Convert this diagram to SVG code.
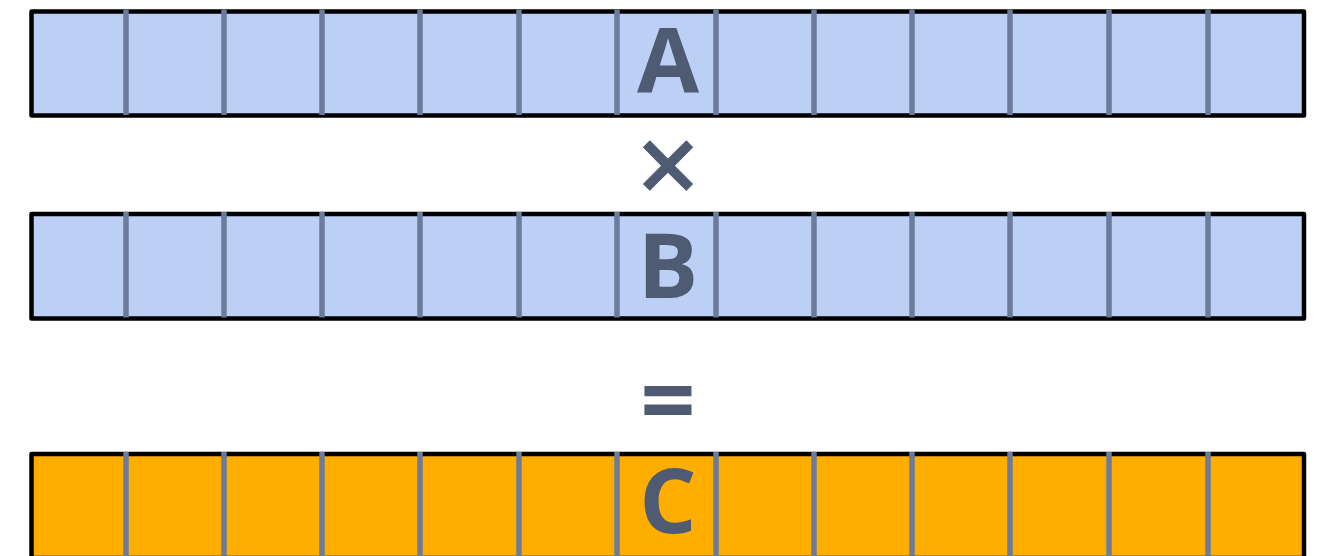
<svg xmlns="http://www.w3.org/2000/svg" width="1329" height="556" viewBox="0 0 1329 556">
<defs>
<style>
.bar{stroke:#000;stroke-width:4.5;stroke-linejoin:round}
.blue{fill:#bccff5}
.orange{fill:#ffae00}
.div{stroke:#6b7b99;stroke-width:5.5}
.lbl{font-family:"Open Sans","Liberation Sans",sans-serif;font-weight:bold;font-size:90px;fill:#4e5b73;text-anchor:middle}
</style>
<g id="dividers">
<line class="div" x1="126" y1="0" x2="126" y2="105.5"/>
<line class="div" x1="224" y1="0" x2="224" y2="105.5"/>
<line class="div" x1="322" y1="0" x2="322" y2="105.5"/>
<line class="div" x1="420" y1="0" x2="420" y2="105.5"/>
<line class="div" x1="519" y1="0" x2="519" y2="105.5"/>
<line class="div" x1="617" y1="0" x2="617" y2="105.5"/>
<line class="div" x1="716" y1="0" x2="716" y2="105.5"/>
<line class="div" x1="814" y1="0" x2="814" y2="105.5"/>
<line class="div" x1="912" y1="0" x2="912" y2="105.5"/>
<line class="div" x1="1010" y1="0" x2="1010" y2="105.5"/>
<line class="div" x1="1109" y1="0" x2="1109" y2="105.5"/>
<line class="div" x1="1208" y1="0" x2="1208" y2="105.5"/>
</g>
</defs>
<rect width="1329" height="556" fill="#fff"/>
<g id="A">
<rect class="bar blue" x="31.5" y="11.5" width="1272.5" height="104"/>
<use href="#dividers" y="9.5"/>
<text class="lbl" x="668" y="92">A</text>
</g>
<g id="times">
<text class="lbl" x="668" y="206" style="font-weight:600;font-size:114px">×</text>
</g>
<g id="B">
<rect class="bar blue" x="31.5" y="214" width="1272.5" height="104.5"/>
<use href="#dividers" y="212"/>
<text class="lbl" x="668" y="298">B</text>
</g>
<g id="equals">
<text class="lbl" x="668" y="435" style="font-size:97px">=</text>
</g>
<g id="C">
<rect class="bar orange" x="31.5" y="454" width="1272.5" height="104"/>
<use href="#dividers" y="452"/>
<text class="lbl" x="668" y="533">C</text>
</g>
</svg>
